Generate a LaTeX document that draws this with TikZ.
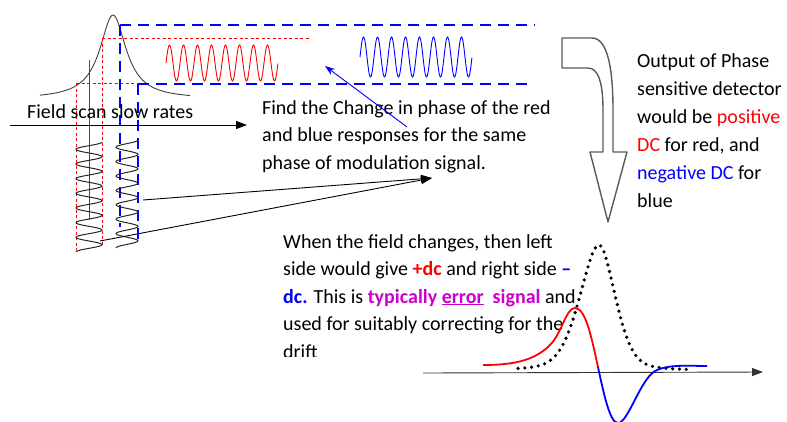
\documentclass[tikz,border=0pt]{standalone}
\usepackage{fontspec}
\setmainfont{Carlito}
\usetikzlibrary{arrows.meta,positioning}

\definecolor{errmag}{RGB}{204,0,204}

\tikzset{
  txt/.style={anchor=base west, inner sep=0pt, align=left,
              font=\fontsize{20}{27.5}\selectfont},
  reddash/.style={red, line width=0.7pt, dash pattern=on 3pt off 2.5pt},
  bluedash/.style={blue, line width=2.2pt, dash pattern=on 11pt off 7pt},
  lineshape/.style={black!75, line width=0.9pt},
  coil/.style={black!85, line width=1pt, smooth, samples=240, domain=0:1},
  wave/.style={line width=0.9pt, smooth, samples=240, domain=0:1},
  dots/.style={line width=3.6pt, dash pattern=on 0pt off 6.8pt, line cap=round},
  bigarrow/.style={black!65, line width=1.4pt, line join=round},
  declare function={
    lw(\x)=(\x<599)*20+(\x>=599)*17;
    uu(\x)=(\x-599)/lw(\x);
    peak(\x)=371-126*(0.65*exp(-0.5*uu(\x)*uu(\x))+0.35/(1+uu(\x)*uu(\x)));
  }
}

\begin{document}
\begin{tikzpicture}[x=1pt, y=-1pt, >={Triangle[length=11pt,width=8pt]}]
  \clip (0,0) rectangle (787,421);

  % absorption line and its guide lines
  \draw[lineshape] plot[domain=40:190, samples=120, smooth]
        (\x, {99-84/(1+((\x-113)/16)^2)});
  \draw[reddash] (102,38) -- (310,38);
  \draw[reddash] (76,83) -- (138,83);
  \draw[reddash] (76,83) -- (76,250);
  \draw[reddash] (102,38) -- (102,245);
  \draw[red, line width=0.8pt] (89,60) -- (89,220);
  \draw[bluedash] (120,25) -- (535,25);
  \draw[bluedash] (138,84) -- (530,84);
  \draw[bluedash] (120,25) -- (120,227);
  \draw[bluedash] (138,84) -- (138,243);

  % responses
  \draw[wave, red] plot ({166+112*\x}, {63-18*sin(360*8*\x)});
  \draw[wave, blue] plot ({360+112*\x}, {57-20*sin(360*8*\x)});

  % modulation
  \draw[coil] plot ({89+13*cos(360*7.5*\x)}, {142+110*\x});
  \draw[coil] plot ({127+11*cos(360*7.5*\x)}, {140+108*\x});

  \node (scanLabel) [txt] at (27,118) {Field scan slow rates};
  \coordinate (scanStart) at (10,125);
  \coordinate (scanEnd) at (247,125);
  \draw[->, line width=0.9pt] (scanStart) -- (scanEnd);

  % multi-line texts: anchored at the baseline of the last line
  \node (findText) [txt] at (262,169)
        {Find the Change in phase of the red\\and blue responses for the same\\phase of modulation signal.};

  \coordinate (blueTail) at (407,127);
  \coordinate (blueHead) at (325,66);
  \draw[-{Stealth[length=10pt,width=7pt]}, blue, line width=0.9pt] (blueTail) -- (blueHead);

  \coordinate (meet) at (432,178);
  \coordinate (coilR) at (143,200);
  \coordinate (coilL) at (100,241);
  \draw[->, line width=0.9pt] (coilR) -- (meet);
  \draw[->, line width=0.9pt] (coilL) -- (meet);

  % bent block arrow
  \draw[bigarrow] (562,38) -- (592,38) .. controls (608,38) and (613,70) .. (613,110)
        -- (613,152) -- (627,152) -- (608,222) -- (590,152) -- (603,152) -- (603,110)
        .. controls (603,82) and (598,68) .. (588,68) -- (562,68) -- cycle;

  \node (outputText) [txt, font=\fontsize{20}{28}\selectfont] at (637,207)
        {Output of Phase\\sensitive detector\\would be \textcolor{red}{positive}\\%
         \textcolor{red}{DC} for red, and\\\textcolor{blue}{negative DC} for\\blue};

  \begin{scope}
    \clip (270,220) rectangle (610,356);
    \node (errorText) [txt] at (283,358)
          {When the field changes, then left\\%
           side would give \textcolor{red}{\textbf{+dc}} and right side \textcolor{blue}{\textbf{–}}\\%
           \textcolor{blue}{\textbf{dc.}} This is \textcolor{errmag}{\textbf{typically \underline{error}\ \ signal}} and\\%
           used for suitably correcting for the\\drift};
  \end{scope}

  % error signal
  \coordinate (axStart) at (423,373);
  \coordinate (axEnd) at (763,372);
  \draw[->, black!80, line width=0.9pt] (axStart) -- (axEnd);
  \draw[dots] plot[domain=518:690, samples=120, smooth] (\x, {peak(\x)});
  \draw[red, line width=1.8pt] (483,365) .. controls (515,365) and (535,360) .. (550,345)
        .. controls (562,333) and (566,308) .. (575,308)
        .. controls (586,308) and (592,340) .. (598,367);
  \draw[blue, line width=1.8pt] (598,367) .. controls (604,395) and (610,423) .. (618,423)
        .. controls (628,423) and (640,380) .. (655,371)
        .. controls (668,364) and (690,366) .. (707,366);
\end{tikzpicture}
\end{document}
